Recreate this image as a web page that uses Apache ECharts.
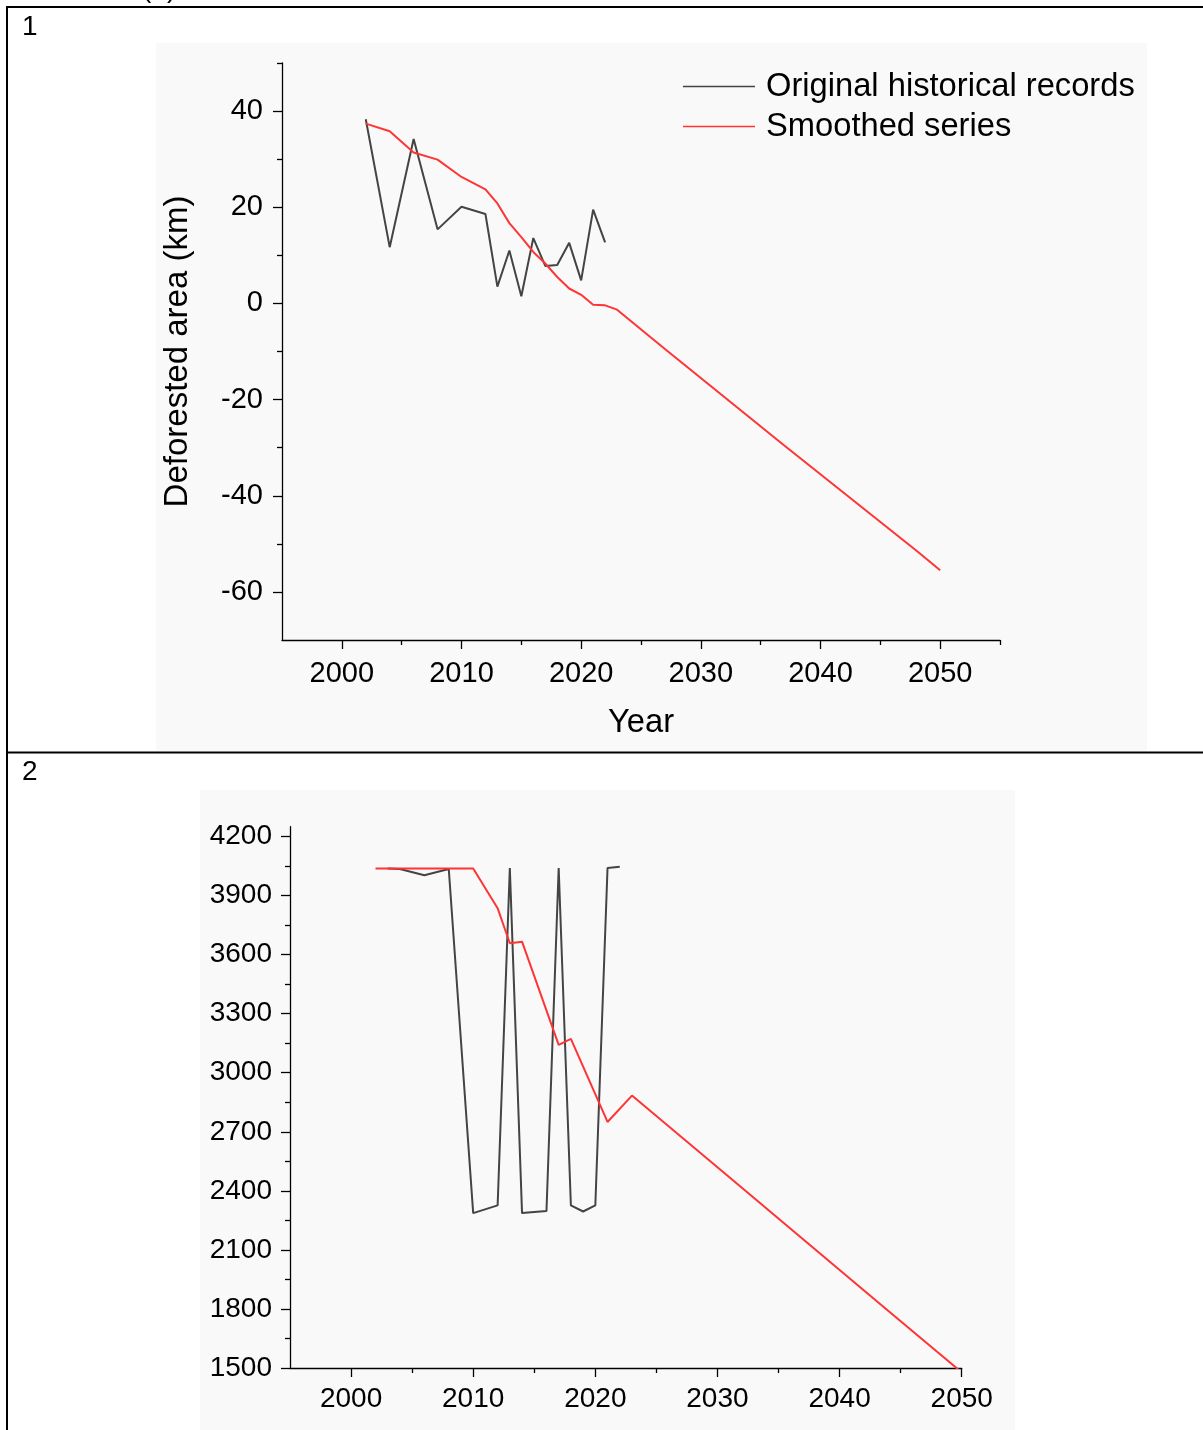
<!DOCTYPE html>
<html><head><meta charset="utf-8">
<script src="https://cdn.jsdelivr.net/npm/echarts@6/dist/echarts.min.js"></script>
<style>html,body{margin:0;padding:0;background:#fff}#c{width:1203px;height:1430px}</style>
</head><body><div id="c"></div>
<script>
// ---------- Panel 1: Deforested area (km) ----------
const p1OrigYears = [2002,2004,2006,2008,2010,2012,2013,2014,2015,2016,2017,2018,2019,2020,2021,2022];
const p1OrigValues = [38.3,11.7,34.2,15.4,20.1,18.6,3.5,11.0,1.5,13.6,7.8,8.0,12.6,4.8,19.5,12.7];
const p1SmoothYears = [2002,2004,2006,2008,2010,2012,2013,2014,2015,2016,2017,2018,2019,2020,2021,2022,2023,2027,2037,2048,2050];
const p1SmoothValues = [37.4,35.8,31.4,29.9,26.3,23.7,20.8,16.7,13.8,10.7,8.3,5.5,3.1,1.8,-0.3,-0.4,-1.3,-9.5,-29.6,-51.4,-55.5];
const p1XMajor = [2000,2010,2020,2030,2040,2050];
const p1XMinor = [2005,2015,2025,2035,2045,2055];
const p1YMajor = [-60,-40,-20,0,20,40];
const p1YMinor = [-50,-30,-10,10,30,50];

// ---------- Panel 2 ----------
const p2OrigYears = [2003,2004,2006,2008,2010,2012,2013,2014,2016,2017,2018,2019,2020,2021,2022];
const p2OrigValues = [4038,4035,4003,4035,2287,2326,4040,2287,2298,4040,2326,2295,2326,4040,4046];
const p2SmoothYears = [2002,2010,2012,2013,2014,2017,2018,2021,2023,2031,2043,2050];
const p2SmoothValues = [4038,4038,3836,3658,3666,3142,3172,2750,2884,2468,1842,1478];
const p2XMajor = [2000,2010,2020,2030,2040,2050];
const p2XMinor = [2005,2015,2025,2035,2045];
const p2YMajor = [1500,1800,2100,2400,2700,3000,3300,3600,3900,4200];
const p2YMinor = [1650,1950,2250,2550,2850,3150,3450,3750,4050];

const seriesNames = ['Original historical records','Smoothed series'];
const FONT = '"Liberation Sans", Arial, sans-serif';
const pairs = (xs, ys) => xs.map((x, i) => [x, ys[i]]);
const plain = v => String(v);

function majorAxis(gridIndex, pos, min, max, ticks, fs, margin, extra) {
  return Object.assign({
    type: 'value', gridIndex, position: pos, offset: 0, min, max,
    axisLine: { show: true, onZero: false, lineStyle: { color: '#000', width: 1.3 } },
    axisTick: { show: true, inside: false, length: 9, customValues: ticks, lineStyle: { color: '#000', width: 1.3 } },
    axisLabel: { show: true, customValues: ticks, formatter: plain, color: '#000', fontSize: fs, fontFamily: FONT, margin },
    splitLine: { show: false }
  }, extra || {});
}
function minorAxis(gridIndex, pos, min, max, ticks) {
  return {
    type: 'value', gridIndex, position: pos, offset: 0, min, max,
    axisLine: { show: false, onZero: false },
    axisTick: { show: true, inside: false, length: 5, customValues: ticks, lineStyle: { color: '#000', width: 1.3 } },
    axisLabel: { show: false },
    splitLine: { show: false }
  };
}

const chart = echarts.init(document.getElementById('c'), null, { renderer: 'canvas' });
chart.setOption({
  animation: false,
  backgroundColor: '#fff',
  textStyle: { fontFamily: FONT },
  grid: [
    { left: 282, top: 63, width: 718, height: 577 },
    { left: 290, top: 826.7, width: 671.7, height: 541.3 }
  ],
  legend: {
    data: seriesNames,
    orient: 'vertical', left: 683, top: 70, padding: 0,
    icon: 'rect', itemWidth: 72, itemHeight: 1.5, itemGap: 7,
    textStyle: { fontSize: 32.7, color: '#000', fontFamily: FONT, padding: [0, 0, 0, 6] }
  },
  xAxis: [
    majorAxis(0, 'bottom', 1995, 2055, p1XMajor, 29, 19, {
      name: 'Year', nameLocation: 'middle', nameGap: 66,
      nameTextStyle: { fontSize: 32.7, color: '#000', fontFamily: FONT }
    }),
    minorAxis(0, 'bottom', 1995, 2055, p1XMinor),
    majorAxis(1, 'bottom', 1995, 2050, p2XMajor, 28, 17),
    minorAxis(1, 'bottom', 1995, 2050, p2XMinor)
  ],
  yAxis: [
    majorAxis(0, 'left', -70, 50, p1YMajor, 29, 19, {
      name: 'Deforested area (km)', nameLocation: 'middle', nameGap: 88,
      nameTextStyle: { fontSize: 33, color: '#000', fontFamily: FONT }
    }),
    minorAxis(0, 'left', -70, 50, p1YMinor),
    majorAxis(1, 'left', 1500, 4250, p2YMajor, 28, 18),
    minorAxis(1, 'left', 1500, 4250, p2YMinor)
  ],
  series: [
    { name: seriesNames[0], type: 'line', xAxisIndex: 0, yAxisIndex: 0, data: pairs(p1OrigYears, p1OrigValues),
      symbol: 'none', lineStyle: { color: '#444', width: 2 }, itemStyle: { color: '#444' } },
    { name: seriesNames[1], type: 'line', xAxisIndex: 0, yAxisIndex: 0, data: pairs(p1SmoothYears, p1SmoothValues),
      symbol: 'none', lineStyle: { color: '#ff3535', width: 2 }, itemStyle: { color: '#ff3535' } },
    { name: seriesNames[0], type: 'line', xAxisIndex: 2, yAxisIndex: 2, data: pairs(p2OrigYears, p2OrigValues),
      symbol: 'none', lineStyle: { color: '#444', width: 2 }, itemStyle: { color: '#444' } },
    { name: seriesNames[1], type: 'line', xAxisIndex: 2, yAxisIndex: 2, data: pairs(p2SmoothYears, p2SmoothValues),
      symbol: 'none', clip: true, lineStyle: { color: '#ff3535', width: 2 }, itemStyle: { color: '#ff3535' } }
  ],
  graphic: [
    { type: 'rect', z: -10, shape: { x: 156, y: 43, width: 991, height: 708 }, style: { fill: '#f9f9f9' } },
    { type: 'rect', z: -10, shape: { x: 200, y: 790, width: 815, height: 640 }, style: { fill: '#f9f9f9' } },
    { type: 'line', shape: { x1: 6, y1: 7, x2: 1203, y2: 7 }, style: { stroke: '#000', lineWidth: 2 } },
    { type: 'line', shape: { x1: 7, y1: 6, x2: 7, y2: 1430 }, style: { stroke: '#000', lineWidth: 2 } },
    { type: 'line', shape: { x1: 6, y1: 752.5, x2: 1203, y2: 752.5 }, style: { stroke: '#000', lineWidth: 2 } },
    { type: 'text', x: 22, y: 13, style: { text: '1', fontSize: 28, fill: '#000', fontFamily: FONT } },
    { type: 'text', x: 22, y: 758, style: { text: '2', fontSize: 28, fill: '#000', fontFamily: FONT } },
    { type: 'text', x: 142, y: 3, style: { text: '(a)', fontSize: 28, fill: '#000', fontFamily: FONT, verticalAlign: 'bottom' } }
  ]
});
</script></body></html>
